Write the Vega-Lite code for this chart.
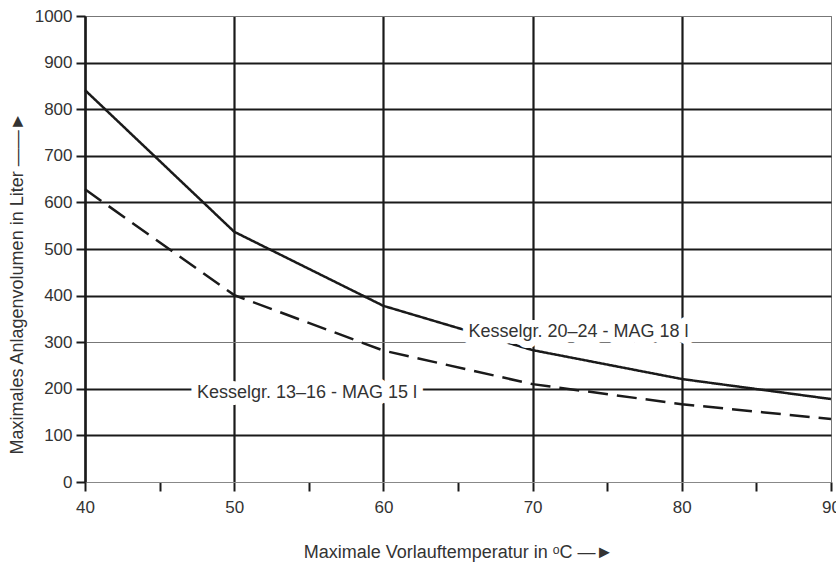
{
  "$schema": "https://vega.github.io/schema/vega-lite/v6.json",
  "width": 746,
  "height": 466,
  "autosize": "none",
  "padding": {"left": 85, "top": 16, "right": 5, "bottom": 85},
  "background": "white",
  "config": {
    "view": {"stroke": "#777", "strokeWidth": 1},
    "font": "Liberation Sans"
  },
  "datasets": {
    "curves": [
      {"temp": 40, "vol": 841, "series": "Kesselgr. 20–24 - MAG 18 l"},
      {"temp": 50, "vol": 537, "series": "Kesselgr. 20–24 - MAG 18 l"},
      {"temp": 60, "vol": 378, "series": "Kesselgr. 20–24 - MAG 18 l"},
      {"temp": 70, "vol": 283, "series": "Kesselgr. 20–24 - MAG 18 l"},
      {"temp": 80, "vol": 221, "series": "Kesselgr. 20–24 - MAG 18 l"},
      {"temp": 90, "vol": 178, "series": "Kesselgr. 20–24 - MAG 18 l"},
      {"temp": 40, "vol": 628, "series": "Kesselgr. 13–16 - MAG 15 l"},
      {"temp": 50, "vol": 401, "series": "Kesselgr. 13–16 - MAG 15 l"},
      {"temp": 60, "vol": 282, "series": "Kesselgr. 13–16 - MAG 15 l"},
      {"temp": 70, "vol": 210, "series": "Kesselgr. 13–16 - MAG 15 l"},
      {"temp": 80, "vol": 167, "series": "Kesselgr. 13–16 - MAG 15 l"},
      {"temp": 90, "vol": 135, "series": "Kesselgr. 13–16 - MAG 15 l"}
    ],
    "labels": [
      {"temp": 65.7, "vol": 322, "label": "Kesselgr. 20–24 - MAG 18 l"},
      {"temp": 47.5, "vol": 191, "label": "Kesselgr. 13–16 - MAG 15 l"}
    ]
  },
  "layer": [
    {
      "data": {"name": "curves"},
      "mark": {"type": "line", "color": "#1a1a1a", "strokeWidth": 2.5, "clip": false},
      "encoding": {
        "x": {
          "field": "temp", "type": "quantitative",
          "scale": {"domain": [40, 90], "nice": false, "zero": false},
          "axis": {
            "title": "Maximale Vorlauftemperatur in ᵒC  —►",
            "titleFontSize": 18, "titleFontWeight": "normal", "titleColor": "#333", "titlePadding": 28,
            "values": [40, 45, 50, 55, 60, 65, 70, 75, 80, 85, 90],
            "format": "d",
            "labelExpr": "datum.value % 10 === 0 ? datum.label : ''",
            "labelFontSize": 17, "labelColor": "#333", "labelPadding": 8,
            "labelFlush": false, "labelOverlap": false, "labelBound": false,
            "tickColor": "#1a1a1a", "tickWidth": 2, "tickSize": 9,
            "domainColor": "#888", "domainWidth": 1,
            "grid": true,
            "gridOpacity": {"condition": {"test": "datum.value % 10 !== 0", "value": 0}, "value": 1},
            "gridColor": {"condition": {"test": "datum.value === 90", "value": "#777"}, "value": "#1a1a1a"},
            "gridWidth": {"condition": {"test": "datum.value === 90", "value": 1}, "value": 2.2}
          }
        },
        "y": {
          "field": "vol", "type": "quantitative",
          "scale": {"domain": [0, 1000], "nice": false},
          "axis": {
            "title": "Maximales Anlagenvolumen in Liter  ——►",
            "titleFontSize": 18, "titleFontWeight": "normal", "titleColor": "#333", "titlePadding": 8,
            "titleY": 267,
            "values": [0, 50, 100, 150, 200, 250, 300, 350, 400, 450, 500, 550, 600, 650, 700, 750, 800, 850, 900, 950, 1000],
            "format": "d",
            "labelExpr": "datum.value % 100 === 0 ? datum.label : ''",
            "labelFontSize": 17, "labelColor": "#333", "labelPadding": 4,
            "labelOverlap": false, "labelBound": false,
            "tickColor": "#1a1a1a", "tickWidth": 2, "tickSize": 9,
            "domainColor": "#1a1a1a", "domainWidth": 2.2,
            "grid": true,
            "gridOpacity": {"condition": {"test": "datum.value % 100 !== 0", "value": 0}, "value": 1},
            "gridColor": {"condition": {"test": "datum.value === 300 || datum.value === 1000 || datum.value === 0", "value": "#777"}, "value": "#1a1a1a"},
            "gridWidth": {"condition": {"test": "datum.value === 300 || datum.value === 1000 || datum.value === 0", "value": 1}, "value": 2.2}
          }
        },
        "strokeDash": {
          "field": "series", "type": "nominal",
          "scale": {"domain": ["Kesselgr. 20–24 - MAG 18 l", "Kesselgr. 13–16 - MAG 15 l"], "range": [[1, 0], [20, 9]]},
          "legend": null
        }
      }
    },
    {
      "data": {"name": "labels"},
      "mark": {"type": "text", "align": "left", "baseline": "middle", "fontSize": 18, "fill": "white", "stroke": "white", "strokeWidth": 14, "strokeJoin": "round"},
      "encoding": {
        "x": {"field": "temp", "type": "quantitative"},
        "y": {"field": "vol", "type": "quantitative"},
        "text": {"field": "label"}
      }
    },
    {
      "data": {"name": "labels"},
      "mark": {"type": "text", "align": "left", "baseline": "middle", "fontSize": 18, "color": "#333"},
      "encoding": {
        "x": {"field": "temp", "type": "quantitative"},
        "y": {"field": "vol", "type": "quantitative"},
        "text": {"field": "label"}
      }
    }
  ]
}
